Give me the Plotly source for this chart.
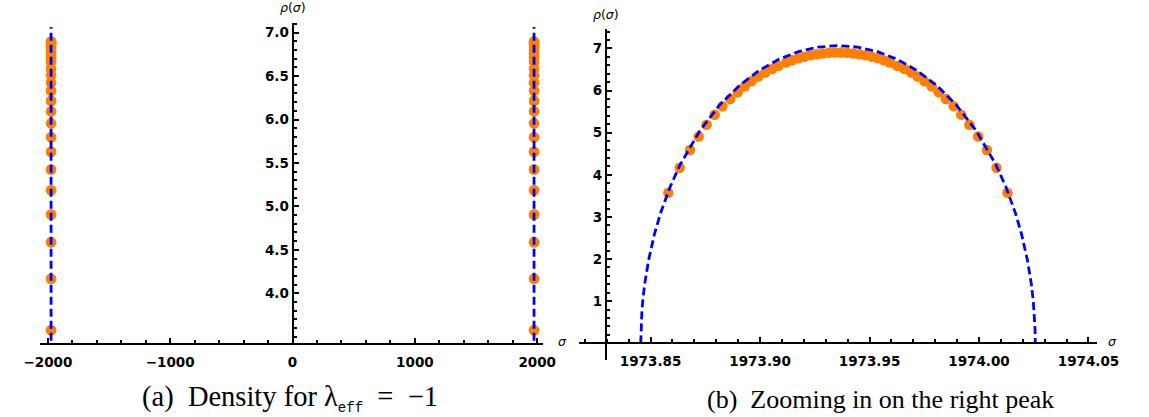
import plotly.graph_objects as go

W, H = 1149, 417

# ---- data ----
# eigenvalue-density points of the right peak (sigma, rho)
sigma_peak = [
    1973.8581, 1973.8633, 1973.8680, 1973.8720, 1973.8756, 1973.8793, 1973.8828, 1973.8864,
    1973.8898, 1973.8930, 1973.8961, 1973.8992, 1973.9024, 1973.9055, 1973.9084,
    1973.9120, 1973.9148, 1973.9176, 1973.9203, 1973.9231, 1973.9259, 1973.9287, 1973.9314,
    1973.9342, 1973.9370, 1973.9398, 1973.9426, 1973.9453, 1973.9481, 1973.9509, 1973.9537,
    1973.9564, 1973.9592,
    1973.9626, 1973.9659, 1973.9690, 1973.9720, 1973.9751, 1973.9784, 1973.9816, 1973.9849,
    1973.9884, 1973.9919, 1973.9956, 1973.9996, 1974.0036, 1974.0080, 1974.0130,
]
rho_peak = [
    3.574, 4.167, 4.587, 4.907, 5.187, 5.425, 5.628, 5.797, 5.956, 6.094, 6.217, 6.331, 6.426, 6.509, 6.584,
    6.665, 6.718, 6.764, 6.803, 6.835, 6.861, 6.880, 6.893, 6.899,
    6.899, 6.893, 6.880, 6.861, 6.835, 6.803, 6.764, 6.718, 6.665,
    6.584, 6.509, 6.426, 6.331, 6.217, 6.094, 5.956, 5.797, 5.628, 5.425, 5.187, 4.907, 4.587, 4.167, 3.574,
]
# left peak: same points mirrored
sigma_peak_left = [-s for s in sigma_peak]

# dashed theoretical density curve of the right peak (read values)
curve_sigma = [
    1973.8455, 1973.8456, 1973.8460, 1973.8464, 1973.8473, 1973.8491, 1973.8518, 1973.8545,
    1973.8590, 1973.8635, 1973.8725, 1973.8815, 1973.8906, 1973.8996, 1973.9086, 1973.9176,
    1973.9266, 1973.9356, 1973.9446, 1973.9536, 1973.9626, 1973.9716, 1973.9807, 1973.9897,
    1973.9987, 1974.0077, 1974.0122, 1974.0167, 1974.0194, 1974.0221, 1974.0239, 1974.0248,
    1974.0252, 1974.0256, 1974.0257,
]
curve_rho = [
    0.0, 0.316, 0.706, 0.997, 1.406, 1.978, 2.597, 3.080,
    3.722, 4.240, 5.046, 5.653, 6.119, 6.476, 6.741, 6.923,
    7.031, 7.066, 7.031, 6.923, 6.741, 6.476, 6.119, 5.653,
    5.046, 4.240, 3.722, 3.080, 2.597, 1.978, 1.406, 0.997,
    0.706, 0.316, 0.0,
]
# at the scale of panel (a) one flank of each peak is drawn (a single vertical dashed stroke)
half = curve_rho.index(max(curve_rho)) + 1
curve_sigma_a_right = curve_sigma[:half]
curve_sigma_a_left = [-s for s in curve_sigma[:half]]
curve_rho_a = curve_rho[:half]

# tick labels
ticks_a_x = [-2000, -1000, 0, 1000, 2000]
ticks_a_x_text = ["\u22122000", "\u22121000", "0", "1000", "2000"]
ticks_a_y = [4.0, 4.5, 5.0, 5.5, 6.0, 6.5, 7.0]
ticks_a_y_text = ["4.0", "4.5", "5.0", "5.5", "6.0", "6.5", "7.0"]
ticks_b_x = [1973.85, 1973.90, 1973.95, 1974.00, 1974.05]
ticks_b_x_text = ["1973.85", "1973.90", "1973.95", "1974.00", "1974.05"]
ticks_b_y = [1, 2, 3, 4, 5, 6, 7]
ticks_b_y_text = ["1", "2", "3", "4", "5", "6", "7"]

ORANGE = "#FF8000"
BLUE = "#0000FF"


def px(x):
    return x / W


def py(y):
    return 1 - y / H


fig = go.Figure()

# panel (a)
fig.add_trace(go.Scatter(
    x=sigma_peak_left + [None] + sigma_peak, y=rho_peak + [None] + rho_peak,
    mode="markers", marker=dict(color=ORANGE, size=10.5, line=dict(width=0)),
    xaxis="x", yaxis="y", showlegend=False, hoverinfo="skip"))
fig.add_trace(go.Scatter(
    x=curve_sigma_a_left + [None] + curve_sigma_a_right, y=curve_rho_a + [None] + curve_rho_a,
    mode="lines", line=dict(color=BLUE, width=2.8, dash="8px,4px"),
    xaxis="x", yaxis="y", showlegend=False, hoverinfo="skip"))

# panel (b)
fig.add_trace(go.Scatter(
    x=sigma_peak, y=rho_peak, mode="markers",
    marker=dict(color=ORANGE, size=10.5, line=dict(width=0)),
    xaxis="x2", yaxis="y2", showlegend=False, hoverinfo="skip"))
fig.add_trace(go.Scatter(
    x=curve_sigma, y=curve_rho, mode="lines",
    line=dict(color=BLUE, width=2.8, dash="8px,4px"),
    xaxis="x2", yaxis="y2", showlegend=False, hoverinfo="skip"))

tickfont = dict(family="DejaVu Sans", size=13.5, color="black", weight="bold")
common = dict(showline=True, linecolor="black", linewidth=2, ticks="inside", ticklen=5,
              tickwidth=2, tickcolor="black", showgrid=False, zeroline=False,
              tickfont=tickfont, tickmode="array", fixedrange=True)

fig.update_layout(
    width=W, height=H, margin=dict(l=0, r=0, t=0, b=0),
    paper_bgcolor="white", plot_bgcolor="white", showlegend=False,
    xaxis=dict(domain=[px(25), px(545)], range=[-2063, 2047], anchor="y",
               tickvals=ticks_a_x, ticktext=ticks_a_x_text, ticklabelstandoff=5,
               minor=dict(ticks="inside", ticklen=3, tickwidth=1.5, tickcolor="black",
                          tick0=0, dtick=200), **common),
    yaxis=dict(domain=[py(343.3), py(22.7)], range=[3.424, 7.115], anchor="free",
               position=px(286), tickvals=ticks_a_y, ticktext=ticks_a_y_text,
               minor=dict(ticks="inside", ticklen=3, tickwidth=1.5, tickcolor="black",
                          tick0=0, dtick=0.1), **common),
    xaxis2=dict(domain=[px(582), px(1118)], range=[1973.8172, 1974.0539], anchor="free",
                position=py(343.3), tickvals=ticks_b_x, ticktext=ticks_b_x_text,
                ticklabelstandoff=5,
                minor=dict(ticks="inside", ticklen=3, tickwidth=1.5, tickcolor="black",
                           tick0=1973.80, dtick=0.01), **common),
    yaxis2=dict(domain=[py(360.2), py(29.4)], range=[-0.4, 7.45], anchor="free",
                position=px(610), tickvals=ticks_b_y, ticktext=ticks_b_y_text,
                minor=dict(ticks="inside", ticklen=3, tickwidth=1.5, tickcolor="black",
                           tickmode="array",
                           tickvals=[round(0.2 * i, 1) for i in range(1, 38) if i % 5]),
                **common),
)

labfont = dict(family="DejaVu Sans", size=12.5, color="black")
ann = [
    dict(x=px(286), y=py(8), text="<i>ρ</i>(<i>σ</i>)"),
    dict(x=px(610), y=py(14), text="<i>ρ</i>(<i>σ</i>)"),
    dict(x=px(565), y=py(341), text="<i>σ</i>"),
    dict(x=px(1134), y=py(341), text="<i>σ</i>"),
]
for a in ann:
    fig.add_annotation(xref="paper", yref="paper", showarrow=False, font=labfont,
                       xanchor="center", yanchor="middle", **a)

fig.add_annotation(
    xref="paper", yref="paper", x=px(283), y=py(398), showarrow=False,
    font=dict(family="Liberation Serif", size=28.5, color="black"),
    xanchor="center", yanchor="middle",
    text="(a)&nbsp;&nbsp;Density for λ<sub><span style='font-family:Liberation Mono;font-size:14px'>eff</span></sub>"
         "&nbsp;&nbsp;=&nbsp;&nbsp;\u22121")
fig.add_annotation(
    xref="paper", yref="paper", x=px(894), y=py(399), showarrow=False,
    font=dict(family="Liberation Serif", size=26, color="black"),
    xanchor="center", yanchor="middle",
    text="(b)&nbsp;&nbsp;Zooming in on the right peak")

fig.write_html("out.html")
